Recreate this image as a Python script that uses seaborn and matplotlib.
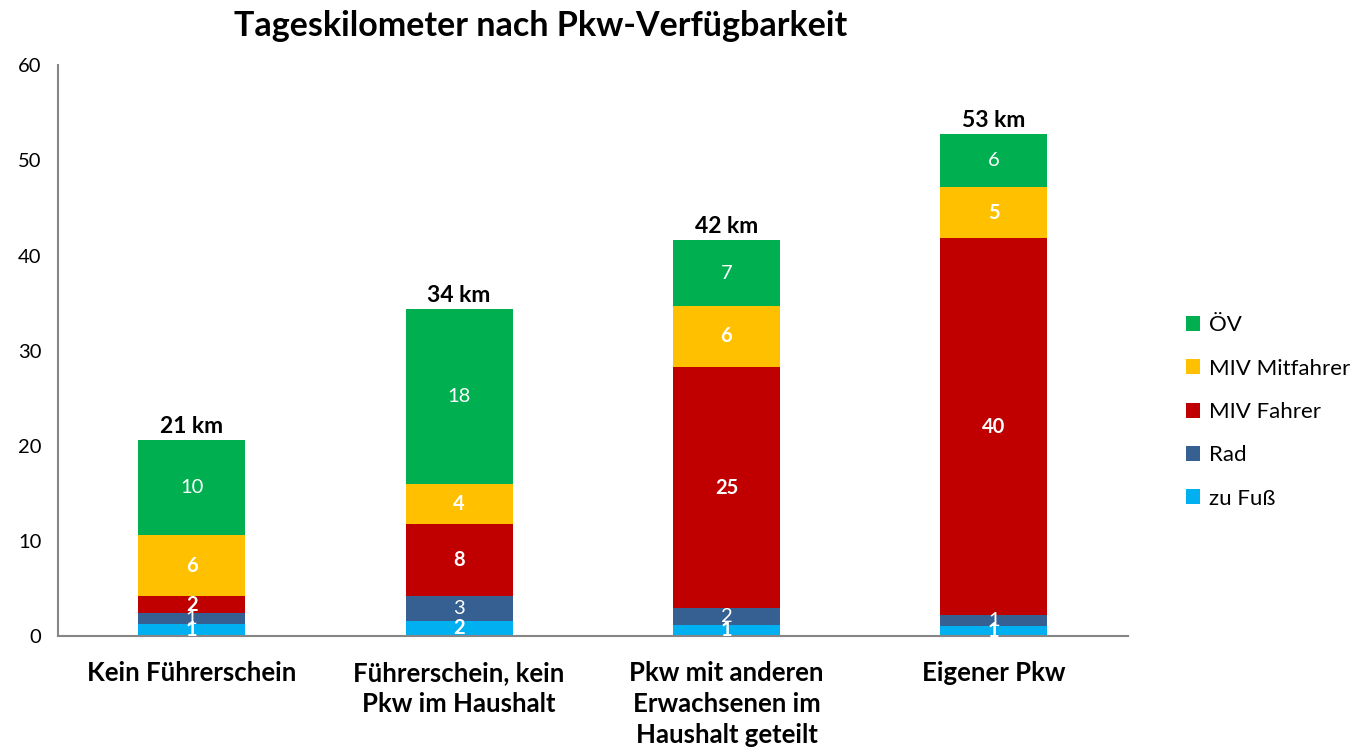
import numpy as np
import pandas as pd
import matplotlib
matplotlib.use("Agg")
import matplotlib.pyplot as plt
import seaborn as sns
from matplotlib.patches import Patch

# ---- data (km per day) ----
categories = ["Kein Führerschein", "Führerschein, kein\nPkw im Haushalt",
              "Pkw mit anderen\nErwachsenen im\nHaushalt geteilt", "Eigener Pkw"]
zu_fuss = [1.3, 1.6, 1.2, 1.1]
rad = [1.1, 2.6, 1.7, 1.1]
miv_fahrer = [1.8, 7.6, 25.4, 39.6]
miv_mitfahrer = [6.4, 4.2, 6.4, 5.4]
oev = [10.0, 18.4, 6.9, 5.6]

series_names = ["zu Fuß", "Rad", "MIV Fahrer", "MIV Mitfahrer", "ÖV"]
series_values = [zu_fuss, rad, miv_fahrer, miv_mitfahrer, oev]
series_colors = ["#00B0F0", "#376092", "#C00000", "#FFC000", "#00B050"]
label_bold = [True, False, True, True, False]

sns.set_style("white")
plt.rcParams['font.family'] = ['Lato', 'DejaVu Sans']
plt.rcParams['text.color'] = 'black'
plt.rcParams['xtick.color'] = 'black'
plt.rcParams['ytick.color'] = 'black'

fig = plt.figure(figsize=(13.54, 7.56), dpi=100)
ax = fig.add_axes([0.0428, 0.1587, 0.790, 0.755])

df = pd.DataFrame({"cat": categories})
bottom = np.zeros(len(categories))
for name, vals, col, bold in zip(series_names, series_values, series_colors, label_bold):
    df[name] = vals
    sns.barplot(data=df, x="cat", y=name, color=col, width=0.4, bottom=bottom,
                ax=ax, saturation=1, edgecolor="none", linewidth=0)
    for i, v in enumerate(vals):
        ax.text(i, bottom[i] + v / 2, f"{v:.0f}", ha="center", va="center",
                color="white", fontsize=14.5, fontweight="bold" if bold else "normal")
    bottom = bottom + np.array(vals)

# totals on top
for i, t in enumerate(bottom):
    ax.text(i, t + 0.3, f"{t:.0f} km", ha="center", va="bottom",
            fontsize=16.5, fontweight="bold", color="black")

ax.set_ylim(0, 60)
ax.set_xlim(-0.5, len(categories) - 0.5)
ax.set_yticks(range(0, 61, 10))
ax.set_xlabel("")
ax.set_ylabel("")

# category boundaries as major ticks, labels on minor ticks
ax.set_xticks(np.arange(-0.5, len(categories), 1.0))
ax.set_xticklabels([])
ax.set_xticks(range(len(categories)), minor=True)
ax.set_xticklabels(categories, minor=True, fontsize=18.5, fontweight="bold",
                   va="top", linespacing=1.35)
ax.tick_params(axis="x", which="minor", length=0, pad=18)
ax.tick_params(axis="x", which="major", length=6, width=1.2, color="#868686", direction="out")
ax.tick_params(axis="y", length=6, width=1.2, color="#868686", direction="out",
               labelsize=14.5, pad=6)

for s in ["top", "right"]:
    ax.spines[s].set_visible(False)
for s in ["left", "bottom"]:
    ax.spines[s].set_color("#868686")
    ax.spines[s].set_linewidth(1.5)

handles = [Patch(facecolor=c, edgecolor="none", label=n)
           for n, c in zip(series_names[::-1], series_colors[::-1])]
fig.legend(handles=handles, loc="center left", bbox_to_anchor=(0.861, 0.455),
           frameon=False, fontsize=16, handlelength=0.65, handleheight=0.65,
           handletextpad=0.4, labelspacing=1.05)

fig.text(0.399, 0.965, "Tageskilometer nach Pkw-Verfügbarkeit", ha="center",
         va="center", fontsize=24.5, fontweight="bold")

fig.savefig("out.png", dpi=100)
